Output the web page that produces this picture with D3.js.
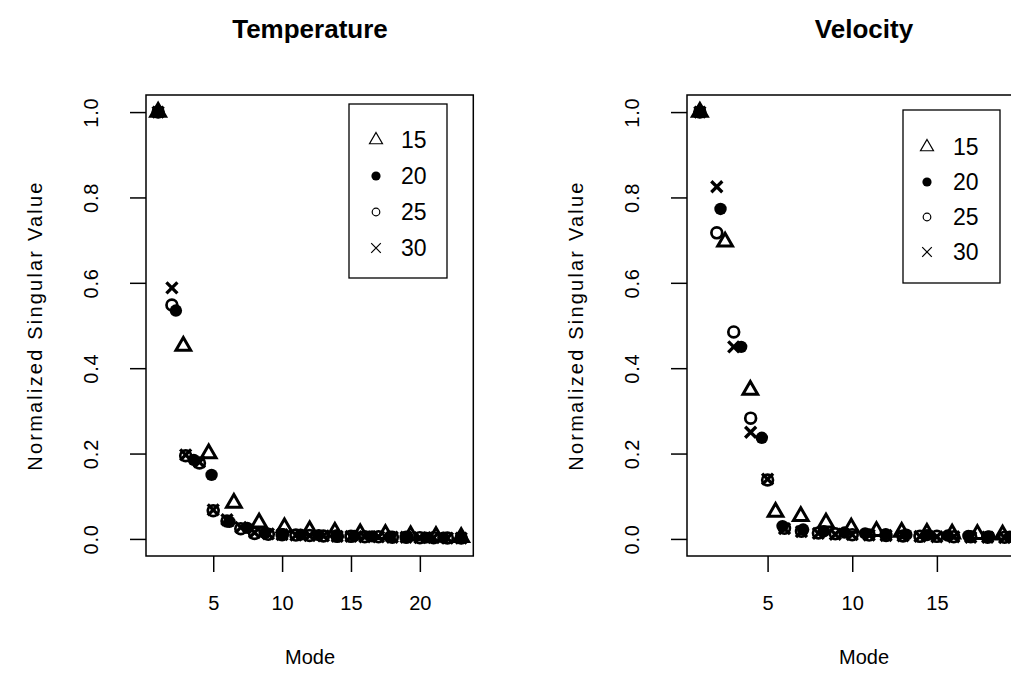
<!DOCTYPE html>
<html>
<head>
<meta charset="utf-8">
<script src="https://cdn.jsdelivr.net/npm/d3@7"></script>
<style>
  body { margin: 0; background: #fff; }
  text { font-family: "Liberation Sans", Arial, sans-serif; fill: #000; }
</style>
</head>
<body>
<div id="chart"></div>
<script>
// chart size
const WIDTH = 1011;
const HEIGHT = 698;

// legend / tick labels
const seriesNames = ["15", "20", "25", "30"];
const yTicks = [0, 0.2, 0.4, 0.6, 0.8, 1.0];
const tempTicks = [5, 10, 15, 20];
const velTicks = [5, 10, 15];

// Temperature panel: mode positions and normalized singular values
const tempMode15 = [1, 2.83, 4.67, 6.5, 8.33, 10.17, 12, 13.83, 15.67, 17.5, 19.33, 21.17, 23];
const tempVal15 = [1, 0.452, 0.200, 0.084, 0.038, 0.027, 0.020, 0.016, 0.013, 0.011, 0.008, 0.006, 0.004];
const tempMode20 = [1, 2.29, 3.59, 4.88, 6.18, 7.47, 8.76, 10.06, 11.35, 12.65, 13.94, 15.24, 16.53, 17.82, 19.12, 20.41, 21.71, 23];
const tempVal20 = [1, 0.535, 0.185, 0.150, 0.040, 0.026, 0.014, 0.011, 0.010, 0.009, 0.008, 0.007, 0.006, 0.005, 0.004, 0.003, 0.003, 0.002];
const tempMode25 = [1, 2, 3, 4, 5, 6, 7, 8, 9, 10, 11, 12, 13, 14, 15, 16, 17, 18, 19, 20, 21, 22, 23];
const tempVal25 = [1, 0.548, 0.195, 0.178, 0.066, 0.042, 0.024, 0.013, 0.011, 0.010, 0.009, 0.008, 0.007, 0.006, 0.006, 0.005, 0.005, 0.004, 0.004, 0.003, 0.003, 0.002, 0.002];
const tempMode30 = [1, 2, 3, 4, 5, 6, 7, 8, 9, 10, 11, 12, 13, 14, 15, 16, 17, 18, 19, 20, 21, 22, 23];
const tempVal30 = [1, 0.588, 0.197, 0.180, 0.068, 0.045, 0.027, 0.015, 0.012, 0.010, 0.009, 0.008, 0.007, 0.006, 0.006, 0.005, 0.005, 0.004, 0.004, 0.003, 0.003, 0.002, 0.002];

// Velocity panel
const velMode15 = [1, 2.49, 3.98, 5.47, 6.96, 8.45, 9.94, 11.43, 12.92, 14.41, 15.9, 17.39, 18.88];
const velVal15 = [1, 0.696, 0.349, 0.063, 0.053, 0.038, 0.026, 0.018, 0.016, 0.014, 0.012, 0.011, 0.010];
const velMode20 = [1, 2.22, 3.44, 4.66, 5.88, 7.1, 8.32, 9.54, 10.76, 11.98, 13.2, 14.42, 15.64, 16.86, 18.08, 19.3];
const velVal20 = [1, 0.773, 0.450, 0.237, 0.030, 0.022, 0.018, 0.015, 0.013, 0.011, 0.010, 0.009, 0.008, 0.007, 0.006, 0.005];
const velMode25 = [1, 2, 3, 4, 5, 6, 7, 8, 9, 10, 11, 12, 13, 14, 15, 16, 17, 18, 19, 20];
const velVal25 = [1, 0.717, 0.485, 0.283, 0.138, 0.025, 0.018, 0.014, 0.012, 0.010, 0.009, 0.008, 0.007, 0.006, 0.006, 0.005, 0.005, 0.004, 0.004, 0.003];
const velMode30 = [1, 2, 3, 4, 5, 6, 7, 8, 9, 10, 11, 12, 13, 14, 15, 16, 17, 18, 19, 20];
const velVal30 = [1, 0.825, 0.450, 0.250, 0.140, 0.024, 0.017, 0.013, 0.011, 0.010, 0.009, 0.008, 0.007, 0.006, 0.005, 0.005, 0.004, 0.004, 0.003, 0.003];

const markerTypes = ["triangle", "dot", "circle", "cross"];

const svg = d3
  .select("#chart")
  .append("svg")
  .attr("width", WIDTH)
  .attr("height", HEIGHT);

// draw one R-style plotting symbol (big = data point, small = legend key)
function drawMarker(g, type, cx, cy, big) {
  if (type === "triangle") {
    const r = big ? 8.5 : 7.5;
    const pts = [[cx, cy - r], [cx + r * Math.sqrt(3) / 2, cy + r / 2], [cx - r * Math.sqrt(3) / 2, cy + r / 2]];
    g.append("path")
      .attr("d", "M" + pts.join("L") + "Z")
      .attr("fill", "none")
      .attr("stroke", "#000")
      .attr("stroke-width", big ? 3 : 1.2);
  } else if (type === "dot") {
    g.append("circle").attr("cx", cx).attr("cy", cy).attr("r", big ? 6.2 : 4.6).attr("fill", "#000");
  } else if (type === "circle") {
    g.append("circle").attr("cx", cx).attr("cy", cy).attr("r", big ? 5.4 : 3.8)
      .attr("fill", "none").attr("stroke", "#000").attr("stroke-width", big ? 2.7 : 1.2);
  } else {
    const h = big ? 5.5 : 4.8;
    g.append("path")
      .attr("d", `M${cx - h},${cy - h}L${cx + h},${cy + h}M${cx - h},${cy + h}L${cx + h},${cy - h}`)
      .attr("stroke", "#000")
      .attr("stroke-width", big ? 3.3 : 1.2);
  }
}

function makePanel(opts) {
  const g = svg.append("g");
  const x = d3.scaleLinear().domain(opts.xDomain).range([opts.left, opts.right]);
  const y = d3.scaleLinear().domain([-0.04, 1.04]).range([556, 95]);

  // points
  const pts = g.append("g");
  opts.series.forEach((s, i) => {
    s.mode.forEach((m, j) => {
      drawMarker(pts, markerTypes[i], x(m), y(s.val[j]), true);
    });
  });

  // y axis (labels rotated like R's las=0)
  const yAxis = g.append("g")
    .attr("transform", `translate(${opts.left},0)`)
    .call(d3.axisLeft(y).tickValues(yTicks).tickFormat(d3.format(".1f")).tickSize(16));
  yAxis.select(".domain").remove();
  yAxis.selectAll(".tick line").attr("stroke-width", 1.5);
  yAxis.selectAll(".tick text")
    .attr("x", 0).attr("dy", 0)
    .attr("text-anchor", "middle")
    .attr("transform", "translate(-48,0) rotate(-90)")
    .style("font-size", "20px")
    .style("letter-spacing", "0.8px")
    .style("font-family", "Liberation Sans, Arial, sans-serif")
    .attr("fill", "#000");

  // x axis
  const xAxis = g.append("g")
    .attr("transform", "translate(0,556)")
    .call(d3.axisBottom(x).tickValues(opts.xTicks).tickSize(16));
  xAxis.select(".domain").remove();
  xAxis.selectAll(".tick line").attr("stroke-width", 1.5);
  xAxis.selectAll(".tick text")
    .attr("y", 54).attr("dy", 0)
    .style("font-size", "20px")
    .style("font-family", "Liberation Sans, Arial, sans-serif")
    .attr("fill", "#000");

  // plot box
  g.append("rect")
    .attr("x", opts.left).attr("y", 95)
    .attr("width", opts.right - opts.left).attr("height", 556 - 95)
    .attr("fill", "none").attr("stroke", "#000").attr("stroke-width", 1.5);

  // titles
  g.append("text")
    .attr("x", opts.titleX).attr("y", 38)
    .attr("text-anchor", "middle")
    .style("font-size", "26px").style("font-weight", "bold")
    .text(opts.title);
  g.append("text")
    .attr("x", opts.titleX).attr("y", 664)
    .attr("text-anchor", "middle")
    .style("font-size", "20px")
    .text("Mode");
  g.append("text")
    .attr("transform", `translate(${opts.left - 104},325.5) rotate(-90)`)
    .attr("text-anchor", "middle")
    .style("font-size", "20px")
    .style("letter-spacing", "2.2px")
    .text("Normalized Singular Value");

  // legend
  const L = opts.legend;
  const lg = g.append("g");
  lg.append("rect")
    .attr("x", L.x0).attr("y", L.y0)
    .attr("width", L.x1 - L.x0).attr("height", L.y1 - L.y0)
    .attr("fill", "#fff").attr("stroke", "#000").attr("stroke-width", 1.3);
  seriesNames.forEach((name, i) => {
    const ry = L.rows[i];
    drawMarker(lg, markerTypes[i], L.sx, ry, false);
    lg.append("text")
      .attr("x", L.tx).attr("y", ry + 8)
      .style("font-size", "23px")
      .text(name);
  });
}

makePanel({
  title: "Temperature",
  titleX: 310,
  left: 146,
  right: 473.3,
  xDomain: [0.12, 23.88],
  xTicks: tempTicks,
  series: [
    { mode: tempMode15, val: tempVal15 },
    { mode: tempMode20, val: tempVal20 },
    { mode: tempMode25, val: tempVal25 },
    { mode: tempMode30, val: tempVal30 }
  ],
  legend: { x0: 349, x1: 447, y0: 104, y1: 278, sx: 376, tx: 401, rows: [140, 176, 212, 248] }
});

makePanel({
  title: "Velocity",
  titleX: 864,
  left: 687,
  right: 1034.4,
  xDomain: [0.24, 20.76],
  xTicks: velTicks,
  series: [
    { mode: velMode15, val: velVal15 },
    { mode: velMode20, val: velVal20 },
    { mode: velMode25, val: velVal25 },
    { mode: velMode30, val: velVal30 }
  ],
  legend: { x0: 903, x1: 1000, y0: 110, y1: 283, sx: 927, tx: 953, rows: [147, 182, 217, 252] }
});
</script>
</body>
</html>
